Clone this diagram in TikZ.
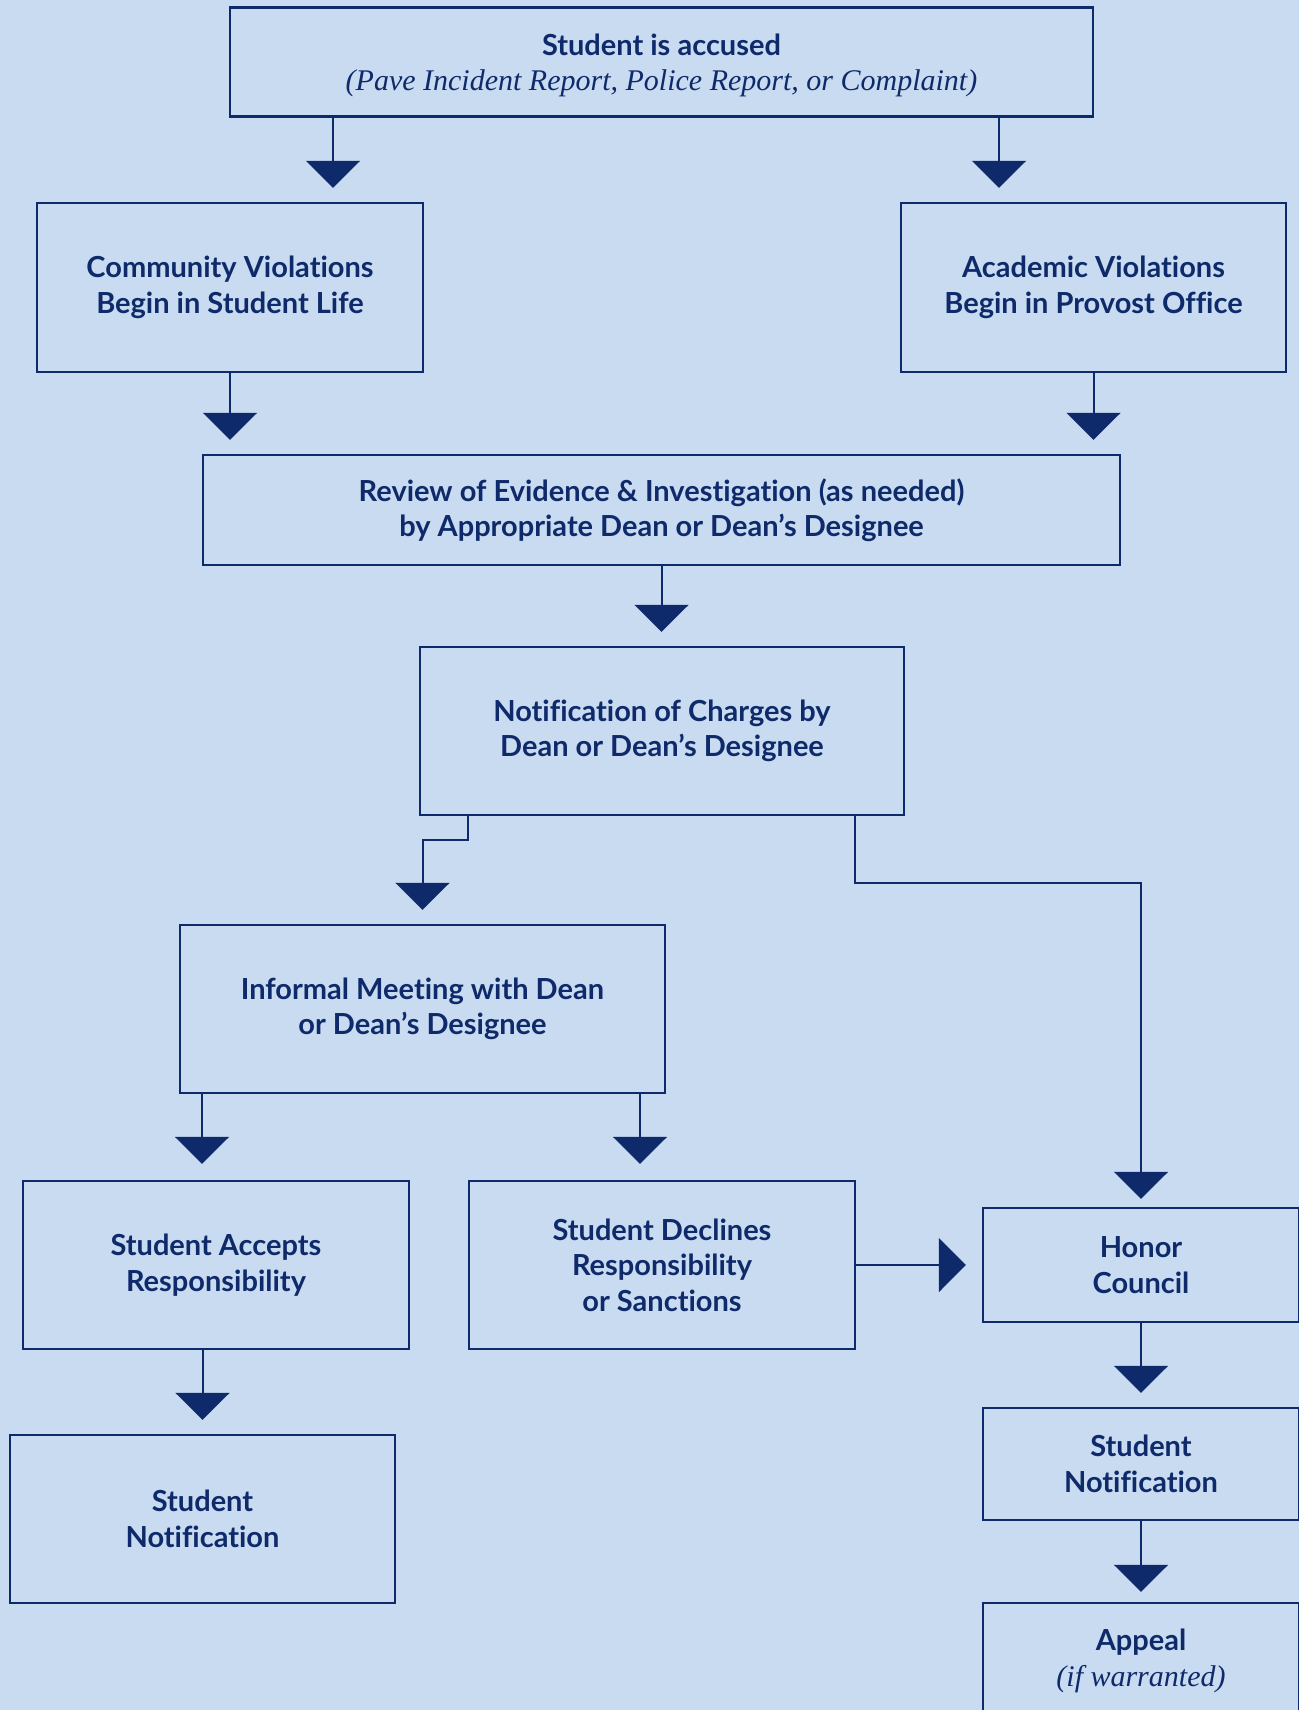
\documentclass[tikz,border=0pt]{standalone}
\usepackage{fontspec}
\setmainfont{Lato}[Ligatures=NoCommon]
\newfontfamily\serifit{Liberation Serif}
\usetikzlibrary{arrows.meta}
\definecolor{bgblue}{HTML}{C8DBF0}
\definecolor{navy}{HTML}{0F2A6B}
\newcommand{\itpart}[1]{{\serifit\itshape\mdseries\fontsize{15}{17.7}\selectfont #1}}
\begin{document}
\begin{tikzpicture}[x=0.5pt,y=-0.5pt,
  box/.style={draw=navy, line width=1.2pt, text=navy, font=\fontsize{14.5}{17.7}\selectfont\bfseries, align=center, inner sep=0pt},
  conn/.style={draw=navy, line width=1pt, -{Triangle[width=27pt,length=13.5pt]}, shorten >=7pt}
]
\useasboundingbox (0,0) rectangle (1299,1710);
\fill[bgblue] (0,0) rectangle (1299,1710);
\clip (0,0) rectangle (1299,1710);

\node[box, minimum width=431.5pt, minimum height=54.5pt] (top) at (661.5,62)
  {\rule{0pt}{14pt}Student is accused\\\itpart{(Pave Incident Report, Police Report, or Complaint)}};
\node[box, minimum width=193pt, minimum height=84.5pt] (comm) at (230,287.5)
  {Community Violations\\Begin in Student Life};
\node[box, minimum width=192.5pt, minimum height=84.5pt] (acad) at (1093.5,287.5)
  {Academic Violations\\Begin in Provost Office};
\node[box, minimum width=458.5pt, minimum height=55pt] (review) at (661.5,510)
  {Review of Evidence \& Investigation (as needed)\\by Appropriate Dean or Dean’s Designee};
\node[box, minimum width=242pt, minimum height=84pt] (notif) at (662,731)
  {Notification of Charges by\\Dean or Dean’s Designee};
\node[box, minimum width=242.5pt, minimum height=84pt] (informal) at (422.5,1009)
  {Informal Meeting with Dean\\or Dean’s Designee};
\node[box, minimum width=193pt, minimum height=84pt] (accepts) at (216,1265)
  {Student Accepts\\Responsibility};
\node[box, minimum width=193pt, minimum height=84pt] (declines) at (662,1265)
  {Student Declines\\Responsibility\\or Sanctions};
\node[box, minimum width=158pt, minimum height=57pt] (honor) at (1141,1265)
  {Honor\\Council};
\node[box, minimum width=158pt, minimum height=56pt] (snR) at (1141,1464)
  {Student\\Notification};
\node[box, minimum width=158pt, minimum height=58pt] (appeal) at (1141,1661)
  {Appeal\\\itpart{(if warranted)}};
\node[box, minimum width=192.5pt, minimum height=84pt] (snL) at (202.5,1519)
  {Student\\Notification};

\draw[conn] (top.south -| 333,0) -- (comm.north -| 333,0);
\draw[conn] (top.south -| 999,0) -- (acad.north -| 999,0);
\draw[conn] (comm.south) -- (comm.south |- review.north);
\draw[conn] (acad.south) -- (acad.south |- review.north);
\draw[conn] (review.south) -- (review.south |- notif.north);
\draw[conn] (notif.south -| 468,0) -- (468,840) -| (informal.north);
\draw[conn, shorten >=4pt] (notif.south -| 855,0) -- (855,883) -| (honor.north);
\draw[conn, shorten >=8pt] (informal.south -| 202,0) -- (accepts.north -| 202,0);
\draw[conn, shorten >=8pt] (informal.south -| 640,0) -- (declines.north -| 640,0);
\draw[conn, shorten >=8pt] (declines.east) -- (honor.west);
\draw[conn] (accepts.south -| snL.north) -- (snL.north);
\draw[conn] (honor.south) -- (snR.north);
\draw[conn, shorten >=5pt] (snR.south) -- (appeal.north);
\end{tikzpicture}
\end{document}
